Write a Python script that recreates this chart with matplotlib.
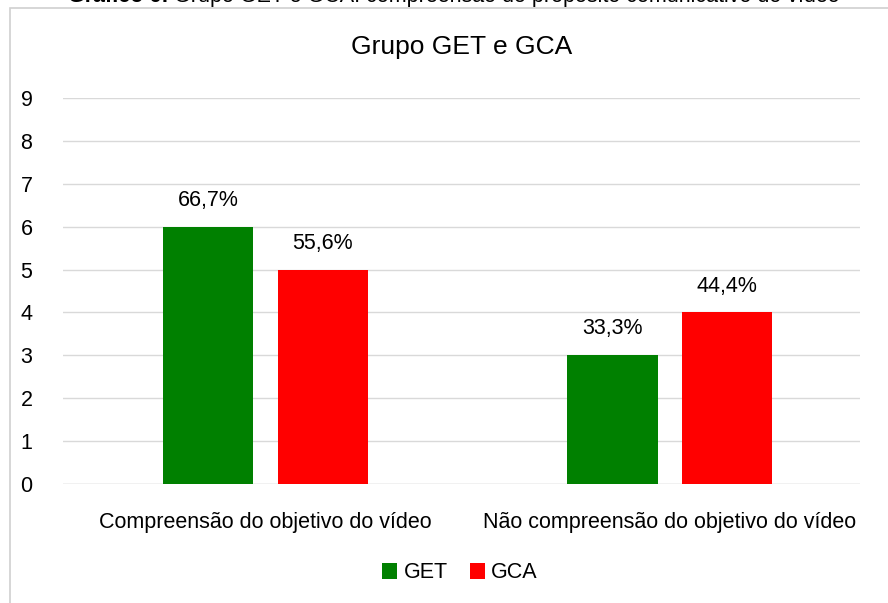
import matplotlib.pyplot as plt
from matplotlib.patches import Rectangle
import numpy as np

plt.rcParams['font.family'] = ['Liberation Sans', 'DejaVu Sans']

categories = ['Compreensão do objetivo do vídeo', 'Não compreensão do objetivo do vídeo']
get_vals = [6, 3]
gca_vals = [5, 4]
get_labels = ['66,7%', '33,3%']
gca_labels = ['55,6%', '44,4%']

fig = plt.figure(figsize=(8.88, 6.03), dpi=100)
ax = fig.add_axes([63/888, 1-484/603, (860-63)/888, (484-98)/603])

# chart frame, cut by the page edges
fig.patches.append(Rectangle((10/888, -0.1), 1.0, 1-8/603+0.1, transform=fig.transFigure,
                             fill=False, edgecolor='#d0d0d0', linewidth=1.2))
# caption above the chart (cut by the top edge as in the source)
cap1 = fig.text(68/888, 1.006, 'Gráfico 6: ', ha='left', va='center', fontsize=15.5,
                fontweight='bold')
ax.annotate('Grupo GET e GCA: compreensão do propósito comunicativo do vídeo',
            xy=(1, 0.5), xycoords=cap1, ha='left', va='center', fontsize=15.5,
            annotation_clip=False)

x = np.arange(len(categories))
w = 0.223
off = 0.142
b1 = ax.bar(x - off, get_vals, w, color='#008000', label='GET', zorder=3)
b2 = ax.bar(x + off, gca_vals, w, color='#ff0000', label='GCA', zorder=3)
for bars, labs in ((b1, get_labels), (b2, gca_labels)):
    for r, t in zip(bars, labs):
        ax.text(r.get_x() + r.get_width()/2, r.get_height() + 0.37, t,
                ha='center', va='bottom', fontsize=15.5)

ax.set_xlim(-0.5, 1.47)
ax.set_ylim(0, 9)
ax.set_yticks(range(10))
ax.yaxis.grid(True, color='#d9d9d9', linewidth=1, zorder=0)
ax.set_xticks(x)
ax.set_xticklabels(categories, fontsize=15.5)
ax.tick_params(axis='both', length=0, labelsize=15.5)
ax.tick_params(axis='x', pad=20)
ax.tick_params(axis='y', pad=22)
for s in ax.spines.values():
    s.set_visible(False)
ax.axhline(0, color='#d9d9d9', linewidth=1, zorder=2)

ax.set_title('Grupo GET e GCA', fontsize=19, pad=32)
fig.legend(loc='center', bbox_to_anchor=(460/888, 1-573/603), ncol=2, frameon=False,
           fontsize=15.5, handlelength=0.7, handleheight=0.7, handletextpad=0.3,
           columnspacing=1.0)

fig.savefig('out.png', dpi=100)
